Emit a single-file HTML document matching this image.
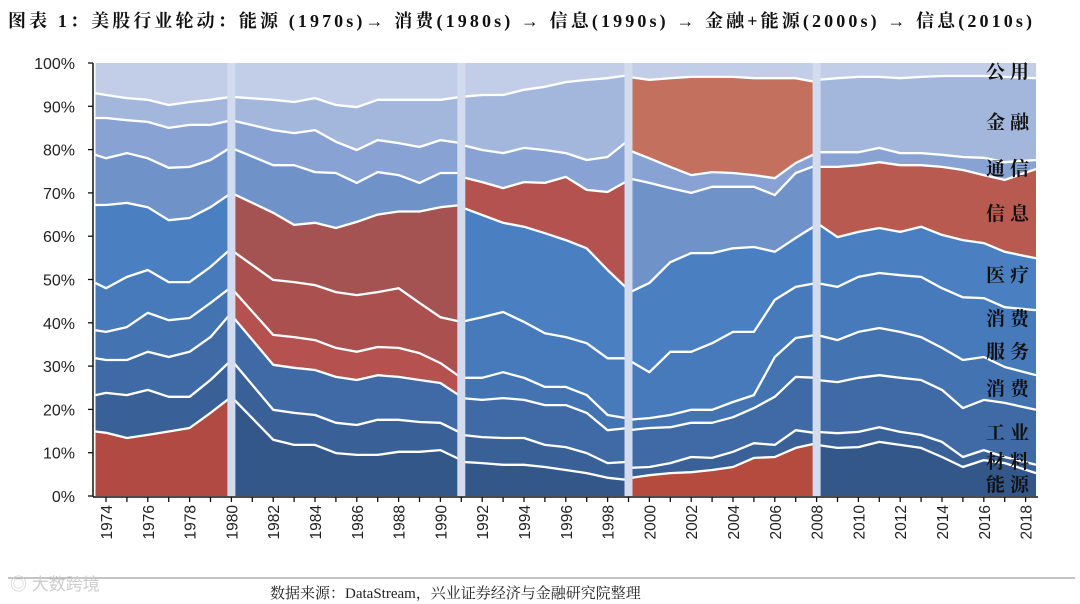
<!DOCTYPE html>
<html><head><meta charset="utf-8">
<style>
body{margin:0;background:#fff;width:1080px;height:604px;overflow:hidden;font-family:"Liberation Serif","Noto Serif CJK SC",serif;}
svg{position:absolute;left:0;top:0}
</style></head>
<body>
<svg id="chart" width="1080" height="604">
<text x="8" y="27" font-size="18" font-weight="bold" fill="#111" textLength="1024" lengthAdjust="spacing" font-family="Liberation Serif, Noto Serif CJK SC, serif">图表 1：美股行业轮动：能源 (1970s)→ 消费(1980s) → 信息(1990s) → 金融+能源(2000s) → 信息(2010s)</text>
<g id="plot"></g>
<g id="axes"></g>
<line x1="8" y1="578" x2="1075" y2="578" stroke="#888" stroke-width="1"/>
<text x="270" y="598" font-size="15" fill="#222" font-family="Liberation Serif, Noto Serif CJK SC, serif">数据来源：DataStream，兴业证券经济与金融研究院整理</text>
<text x="10" y="590" font-size="17" fill="#ccc" font-family="Liberation Sans, Noto Sans CJK SC, sans-serif">◎ 大数跨境</text>
</svg>
<script>
// sector names bottom -> top
const sectors = ["能源","材料","工业","消费","消费服务","医疗","信息","通信","金融","公用"];
// Era A 1974-1980 (cumulative boundaries b1..b9, %)
const yearsA = [1973.5,1974,1975,1976,1977,1978,1979,1980];
const bA = [
 [14.9,14.6,13.4,14.1,14.9,15.7,19.2,22.9],
 [23.3,23.8,23.3,24.5,22.9,22.9,26.8,31.4],
 [31.8,31.4,31.4,33.3,32.1,33.3,36.7,42.3],
 [38.3,37.9,39,42.3,40.6,41.1,44.6,48.3],
 [49.2,48,50.6,52.2,49.4,49.4,52.9,57.2],
 [67.2,67.2,67.7,66.7,63.7,64.2,66.7,70],
 [78.8,78,79.2,78,75.8,76,77.6,80.6],
 [87.3,87.3,86.8,86.4,85,85.7,85.7,86.8],
 [93,92.6,91.9,91.5,90.3,91,91.5,92.2]];
const redA = [0];
// Era B 1980-1991
const yearsB = [1980,1982,1983,1984,1985,1986,1987,1988,1989,1990,1991];
const bB = [
 [22.9,13,11.8,11.8,9.9,9.5,9.5,10.2,10.2,10.6,8.3],
 [31.4,19.9,19.2,18.7,16.9,16.4,17.6,17.6,17.1,16.9,14.5],
 [41.8,30.3,29.6,29.1,27.5,26.8,27.9,27.5,26.8,26.1,22.9],
 [48,37.2,36.7,36,34.2,33.3,34.4,34.2,33,30.7,27.3],
 [56.8,49.9,49.4,48.7,47.1,46.4,47.1,48,44.6,41.3,40.2],
 [70,65.4,62.6,63.1,61.9,63.3,65,65.7,65.7,66.7,67.2],
 [80.4,76.4,76.4,74.8,74.6,72.3,74.8,74.1,72.3,74.6,74.6],
 [86.8,84.5,83.8,84.5,81.8,79.9,82.2,81.5,80.6,82.2,81.5],
 [92.2,91.5,91,91.9,90.3,89.8,91.5,91.5,91.5,91.5,92.2]];
const redB = [3,4,5];
// Era C 1991-1999
const yearsC = [1991,1992,1993,1994,1995,1996,1997,1998,1999];
const bC = [
 [7.9,7.6,7.2,7.2,6.7,6,5.3,4.2,3.7],
 [14.1,13.6,13.4,13.4,11.8,11.3,9.9,7.6,7.9],
 [22.6,22.2,22.6,22.2,21,21,19.2,15.2,15.7],
 [27.3,27.3,28.6,27.3,25.2,25.2,23.3,18.7,17.9],
 [40.2,41.3,42.5,40.2,37.6,36.7,35.3,31.8,31.8],
 [66.7,64.9,63.1,62.2,60.7,59.1,57.2,52.2,47.6],
 [73.7,72.5,71.1,72.5,72.3,73.7,70.7,70.2,72.9],
 [81.1,79.9,79.2,80.4,79.9,79.2,77.6,78.3,82.2],
 [92.2,92.6,92.6,93.8,94.5,95.6,96.1,96.5,97.2]];
const redC = [6];
// Era D 1999-2008
const yearsD = [1999,2000,2001,2002,2003,2004,2005,2006,2007,2008];
const bD = [
 [4.1,4.8,5.3,5.5,6,6.7,8.8,9,11.1,12.2],
 [6.5,6.7,7.6,9,8.8,10.2,12.2,11.8,15.2,14.5],
 [15.2,15.7,15.9,16.9,16.9,18.2,20.3,22.9,27.5,27.3],
 [17.6,18,18.7,19.9,19.9,21.7,23.3,32.1,36.5,37.2],
 [31.4,28.6,33.3,33.3,35.3,37.9,37.9,45.3,48.3,49.2],
 [46.9,49.2,54,56.1,56.1,57.2,57.5,56.4,59.6,62.6],
 [73.4,72.3,71.1,70,71.4,71.4,71.4,69.5,74.6,76.4],
 [79.9,78,76,74.1,74.8,74.6,74.1,73.4,76.9,79.2],
 [96.8,96.1,96.5,96.8,96.8,96.8,96.5,96.5,96.5,95.6]];
const redD = [0,8];
// Era E 2008-2018
const yearsE = [2008,2009,2010,2011,2012,2013,2014,2015,2016,2017,2018.5];
const bE = [
 [11.8,11.1,11.3,12.5,11.8,11.1,9,6.7,8.3,7.6,5.3],
 [14.8,14.5,14.8,15.9,14.8,14.1,12.5,9,10.6,9,7.2],
 [26.8,26.3,27.3,27.9,27.3,26.8,24.5,20.3,22.2,21.5,19.9],
 [37.2,36,37.9,38.8,37.9,36.7,34.2,31.4,32.1,29.8,27.9],
 [49.2,48.3,50.6,51.5,51,50.6,48,45.9,45.7,43.6,42.9],
 [63.1,59.8,61,61.9,61,62.2,60.3,59.1,58.4,56.4,54.9],
 [76,76,76.4,77.1,76.4,76.4,76,75.3,74.1,73,75.5],
 [79.4,79.4,79.4,80.4,79.2,79.2,78.8,78.3,78.1,77.1,77.6],
 [96.1,96.5,96.8,96.8,96.5,96.8,97,97,97,96.8,96.5]];
const redE = [6];
const separators = [1980,1991,1999,2008];
const yTicks = [0,10,20,30,40,50,60,70,80,90,100];
const xTicks = [1974,1976,1978,1980,1982,1984,1986,1988,1990,1992,1994,1996,1998,2000,2002,2004,2006,2008,2010,2012,2014,2016,2018];
const legendLabels = ["公用","金融","通信","信息","医疗","消费","服务","消费","工业","材料","能源"];
const legendPct = [98.2,86.5,75.8,65.4,51.1,41.1,33.5,25,14.8,8.1,2.8];

const NS="http://www.w3.org/2000/svg";
const X0=106, XS=20.9, Y0=496, YS=4.33;
const xs=y=>X0+XS*(y-1974);
const ys=p=>Y0-YS*p;
const blues=["#34578a","#3a6197","#3f6aa6","#4473b2","#477abb","#4a80c2","#6f93c9","#88a3d3","#a3b6dc","#c2cee7"];
const plot=document.getElementById('plot');
const axes=document.getElementById('axes');
function mk(tag,attrs,parent){const e=document.createElementNS(NS,tag);for(const k in attrs)e.setAttribute(k,attrs[k]);parent.appendChild(e);return e;}

function drawEra(years,bounds,reds,redColors,eraName){
  const full=[years.map(()=>0)].concat(bounds).concat([years.map(()=>100)]);
  for(let i=0;i<10;i++){
    const lo=full[i],hi=full[i+1];
    let d="M"+years.map((y,j)=>xs(y).toFixed(1)+","+ys(hi[j]).toFixed(1)).join("L");
    for(let j=years.length-1;j>=0;j--)d+="L"+xs(years[j]).toFixed(1)+","+ys(lo[j]).toFixed(1);
    d+="Z";
    const ri=reds.indexOf(i);
    const p=mk('path',{d:d,fill:ri>=0?redColors[ri]:blues[i]},plot);
    
    
  }
  for(let i=0;i<9;i++){
    const pts=years.map((y,j)=>xs(y).toFixed(1)+","+ys(bounds[i][j]).toFixed(1)).join(" ");
    const l=mk('polyline',{points:pts,fill:"none",stroke:"#fff","stroke-width":2.3,"stroke-linejoin":"round"},plot);
    
    
  }
}
drawEra(yearsA,bA,redA,["#b04a43"],"era-1970s");
drawEra(yearsB,bB,redB,["#b5524f","#aa504e","#a55352"],"era-1980s");
drawEra(yearsC,bC,redC,["#b3524f"],"era-1990s");
drawEra(yearsD,bD,redD,["#b54b3f","#c4705f"],"era-2000s");
drawEra(yearsE,bE,redE,["#b85a4f"],"era-2010s");

separators.forEach(s=>{
  const r=mk('rect',{x:xs(s)-4,y:ys(100),width:8,height:ys(0)-ys(100),fill:"#d3dcee"},plot);
  
  
});

// axes
const ya=mk('line',{x1:93,y1:ys(100),x2:93,y2:ys(0)+1,stroke:"#111","stroke-width":1.5},axes);


const xa=mk('line',{x1:93,y1:ys(0)+1,x2:1038,y2:ys(0)+1,stroke:"#111","stroke-width":1.5},axes);


yTicks.forEach(t=>{
  const tk=mk('line',{x1:88,y1:ys(t),x2:93,y2:ys(t),stroke:"#111","stroke-width":1.3},axes);
  
  
  const tx=mk('text',{x:75,y:ys(t)+6,"text-anchor":"end","font-size":16,fill:"#222","font-family":"Liberation Sans, sans-serif"},axes);
  tx.textContent=t+"%";
  
  
});
for(let y=1974;y<=2018;y++){
  const tk=mk('line',{x1:xs(y),y1:ys(0)+1,x2:xs(y),y2:ys(0)+6,stroke:"#111","stroke-width":1.3},axes);
  
  
}
xTicks.forEach(y=>{
  const tx=mk('text',{x:0,y:0,"text-anchor":"end","font-size":15.5,fill:"#222","font-family":"Liberation Sans, sans-serif",transform:"translate("+(xs(y)+6)+",505) rotate(-90)"},axes);
  tx.textContent=y;
  
  
});
legendLabels.forEach((lab,i)=>{
  const tx=mk('text',{x:1010,y:ys(legendPct[i])+7,"text-anchor":"middle","font-size":19,"font-weight":"bold","letter-spacing":"5",fill:"#111","font-family":"Liberation Serif, Noto Serif CJK SC, serif"},axes);
  tx.textContent=lab;
  
  
});
</script>
</body></html>
